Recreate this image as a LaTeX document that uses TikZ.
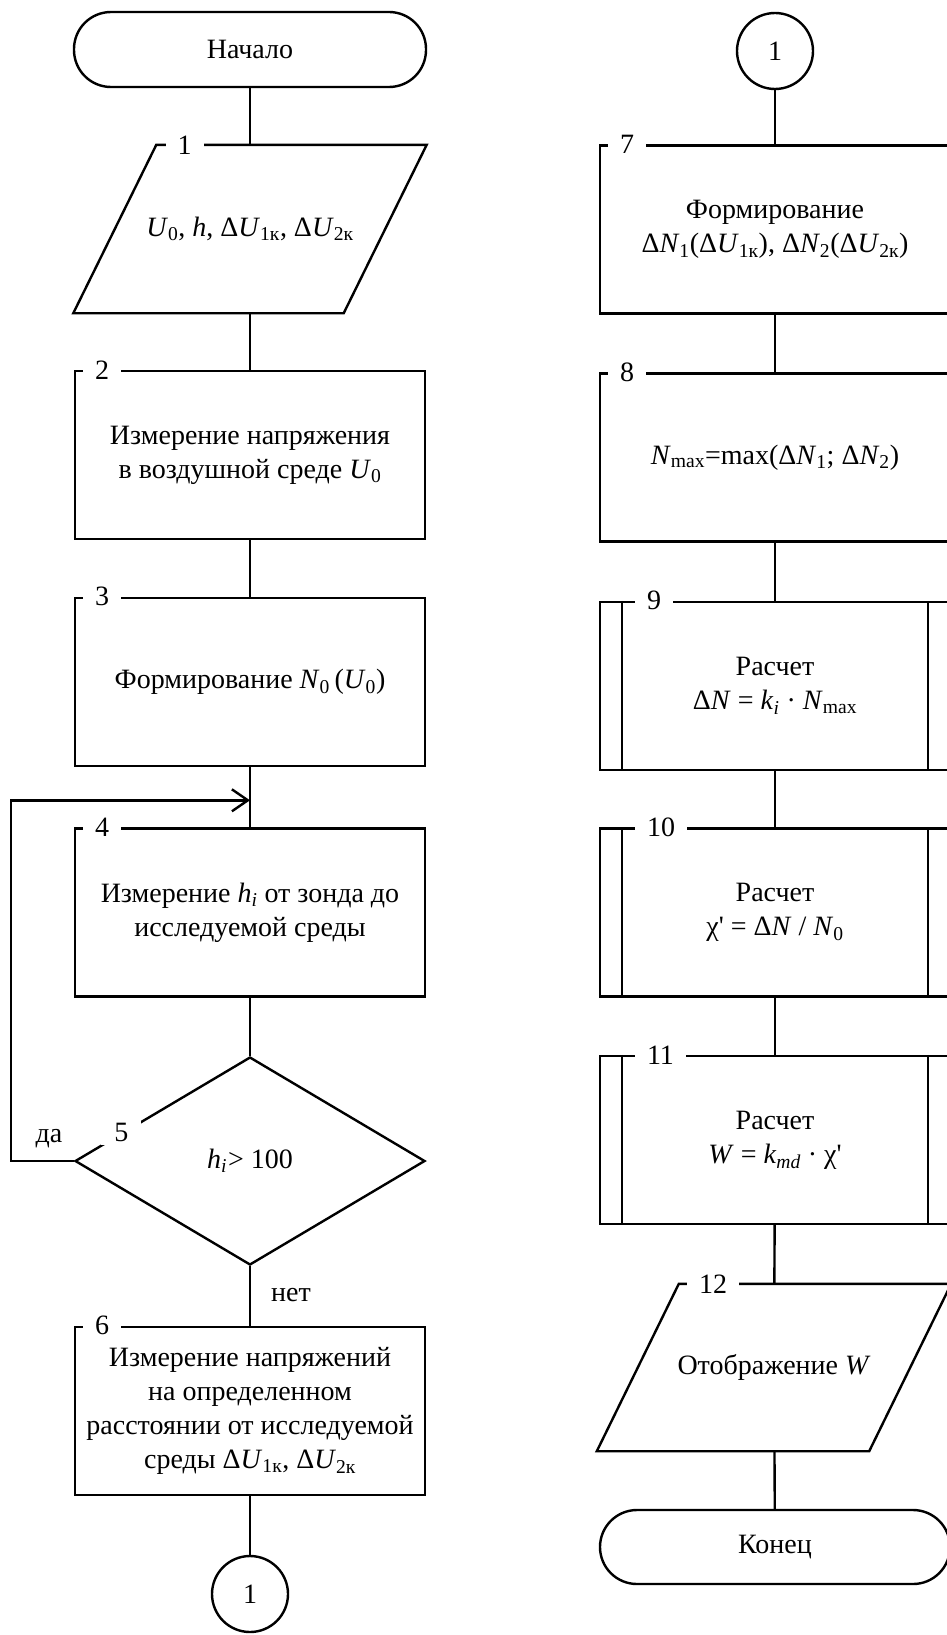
\documentclass[tikz,border=0pt]{standalone}
\usepackage{fontspec}
\setmainfont{Liberation Serif}
\newfontfamily\nomap[Ligatures=TeXOff]{Liberation Serif}
\usetikzlibrary{shapes.geometric,arrows.meta,calc}
\newcommand{\iv}[1]{\textit{#1}}
\newcommand{\sbt}[1]{\textsubscript{#1}}
\newcommand{\prm}{{\nomap '}}
\begin{document}
\begin{tikzpicture}[x=1pt,y=-1pt,line width=2.4pt,
  font=\fontsize{28}{34}\selectfont,
  proc/.style={draw,rectangle,minimum width=350pt,minimum height=168pt,align=center,inner sep=0pt},
  term/.style={draw,rectangle,rounded corners=37pt,minimum width=352pt,minimum height=75pt,inner sep=0pt},
  conn/.style={draw,circle,minimum size=76pt,inner sep=0pt},
  io/.style={rectangle,minimum width=351pt,minimum height=166pt,align=center,inner sep=0pt},
  decide/.style={draw,diamond,minimum width=350pt,minimum height=208pt,inner sep=0pt},
  num/.style={fill=white,inner xsep=12pt,inner ysep=3pt,anchor=west},
  plain/.style={inner sep=0pt},
  flow/.style={-{Straight Barb[length=16pt,width=22pt]}}]
\useasboundingbox (0,0) rectangle (947,1635);

% ---------- left column ----------
\node[term] (t0) at (250,49.5) {Начало};
\node[io] (p1) at (250,229) {\iv{U}\sbt{0}, \iv{h}, Δ\iv{U}\sbt{1к}, Δ\iv{U}\sbt{2к}};
\draw (p1.south west) -- ($(p1.north west)+(83,0)$) -- (p1.north east)
      -- ($(p1.south east)+(-83,0)$) -- cycle;
\node[proc] (b2) at (250,455) {Измерение напряжения\\в воздушной среде \iv{U}\sbt{0}};
\node[proc] (b3) at (250,682) {Формирование \iv{N}\sbt{0}\,(\iv{U}\sbt{0})};
\node[proc] (b4) at (250,912.5) {Измерение \iv{h}\sbt{\iv{i}} от зонда до\\исследуемой среды};
\node[decide] (d5) at (250,1161) {\iv{h}\sbt{\iv{i}}\kern1pt> 100};
\node[proc] (b6) at (250,1411) {Измерение напряжений\\на определенном\\расстоянии от исследуемой\\среды Δ\iv{U}\sbt{1к}, Δ\iv{U}\sbt{2к}};
\node[conn] (c1) at (250,1594) {1};

% junction of the return line, 27px above block 4
\coordinate (j4) at ($(b4.north)+(0,-27)$);
\draw (t0) -- (p1);
\draw (p1) -- (b2);
\draw (b2) -- (b3);
\draw (b3) -- (b4);
\draw (b4) -- (d5);
\draw (d5) -- (b6);
\draw (b6) -- (c1);
\draw[flow] (d5.west) -- ++(-63,0) |- (j4);

\node[plain] (yes) at (49,1139) {да};
\node[plain] (no) at (291,1295) {нет};

% block numbers
\node[num] (n1) at ($(p1.north west)+(91,0)$) {1};
\node[num] (n2) at ($(b2.north west)+(8,0)$) {2};
\node[num] (n3) at ($(b3.north west)+(8,0)$) {3};
\node[num] (n4) at ($(b4.north west)+(8,0)$) {4};
\node[num,anchor=center,inner xsep=13pt] (n5) at ($(d5.west)!0.27!(d5.north)$) {5};
\node[num] (n6) at ($(b6.north west)+(8,0)$) {6};

% ---------- right column ----------
\node[conn] (c2) at (775,51) {1};
\node[proc] (b7) at (775,229.5) {Формирование\\Δ\iv{N}\sbt{1}(Δ\iv{U}\sbt{1к}), Δ\iv{N}\sbt{2}(Δ\iv{U}\sbt{2к})};
\node[proc] (b8) at (775,457.5) {\iv{N}\sbt{max}=max(Δ\iv{N}\sbt{1}; Δ\iv{N}\sbt{2})};
\node[proc] (b9) at (775,686) {Расчет\\Δ\iv{N} = \iv{k}\sbt{\iv{i}} · \iv{N}\sbt{max}};
\node[proc] (b10) at (775,912.5) {Расчет\\χ\prm{} = Δ\iv{N} / \iv{N}\sbt{0}};
\node[proc] (b11) at (775,1140) {Расчет\\\iv{W} = \iv{k}\sbt{\iv{md}} · χ\prm};
\node[io,minimum height=165pt,minimum width=352pt] (p12) at (774,1367.5) {Отображение \iv{W}};
\draw (p12.south west) -- ($(p12.north west)+(82,0)$) -- (p12.north east)
      -- ($(p12.south east)+(-82,0)$) -- cycle;
\node[term,minimum height=74pt,minimum width=350pt] (t1) at (775,1547) {Конец};

% predefined-process side bars
\foreach \b in {b9,b10,b11}{
  \draw ($(\b.north west)+(23,0)$) -- ($(\b.south west)+(23,0)$);
  \draw ($(\b.north east)+(-23,0)$) -- ($(\b.south east)+(-23,0)$);
}

\draw (c2) -- (b7);
\draw (b7) -- (b8);
\draw (b8) -- (b9);
\draw (b9) -- (b10);
\draw (b10) -- (b11);
\draw (b11) -- (p12);
\draw (p12) -- (t1);

\node[num] (n7) at ($(b7.north west)+(8,0)$) {7};
\node[num] (n8) at ($(b8.north west)+(8,0)$) {8};
\node[num] (n9) at ($(b9.north west)+(35,0)$) {9};
\node[num] (n10) at ($(b10.north west)+(35,0)$) {10};
\node[num] (n11) at ($(b11.north west)+(35,0)$) {11};
\node[num] (n12) at ($(p12.north west)+(89,0)$) {12};
\end{tikzpicture}
\end{document}
